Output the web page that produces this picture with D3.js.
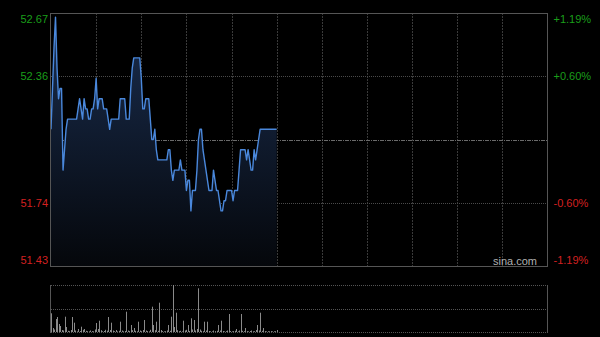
<!DOCTYPE html>
<html>
<head>
<meta charset="utf-8">
<script src="https://cdn.jsdelivr.net/npm/d3@7"></script>
<style>
    html, body { margin: 0; padding: 0; background: #000; }
    svg { display: block; }
    text { font-family: "Liberation Sans", Arial, sans-serif; font-size: 11px; }
</style>
</head>
<body>
<svg id="chart"></svg>
<script>
// HK intraday, 1-minute prices for the morning session (09:30 - 12:00)
const prevClose = 52.05;
const priceTicks = [52.67, 52.36, 52.05, 51.74, 51.43];
const pctTicks = ['+1.19%', '+0.60%', '', '-0.60%', '-1.19%'];
const sessionMinutes = 330; // 5.5h, 11 half-hour columns

const prices = [
    52.10, 52.30, 52.50, 52.65, 52.40, 52.25, 52.30, 52.30, 51.90, 52.00,
    52.10, 52.15, 52.15, 52.15, 52.15, 52.15, 52.15, 52.15, 52.20, 52.25,
    52.20, 52.15, 52.25, 52.20, 52.20, 52.15, 52.15, 52.20, 52.20, 52.25,
    52.35, 52.20, 52.25, 52.25, 52.25, 52.20, 52.20, 52.20, 52.15, 52.10,
    52.15, 52.15, 52.15, 52.15, 52.15, 52.15, 52.25, 52.25, 52.25, 52.25,
    52.15, 52.15, 52.15, 52.30, 52.40, 52.45, 52.45, 52.45, 52.45, 52.45,
    52.35, 52.20, 52.20, 52.25, 52.25, 52.25, 52.15, 52.05, 52.05, 52.10,
    52.00, 51.95, 51.95, 51.95, 51.95, 51.95, 51.95, 51.95, 52.00, 52.00,
    51.90, 51.85, 51.90, 51.90, 51.90, 51.90, 51.95, 51.90, 51.90, 51.90,
    51.80, 51.85, 51.85, 51.70, 51.80, 51.80, 51.80, 51.90, 52.05, 52.10,
    52.10, 52.00, 51.95, 51.90, 51.85, 51.80, 51.80, 51.80, 51.90, 51.85,
    51.80, 51.80, 51.75, 51.70, 51.70, 51.75, 51.75, 51.80, 51.80, 51.80,
    51.80, 51.75, 51.80, 51.80, 51.80, 51.90, 52.00, 52.00, 52.00, 52.00,
    51.95, 52.00, 51.95, 51.90, 51.90, 52.00, 51.95, 52.00, 52.05, 52.10,
    52.10, 52.10, 52.10, 52.10, 52.10, 52.10, 52.10, 52.10, 52.10, 52.10, 52.10
];

const volumes = [
    18700, 4000, 2500, 13000, 15000, 8000, 6000, 2000, 1500, 15300,
    5000, 1200, 800, 2000, 15000, 9300, 1500, 600, 3000, 1000,
    5300, 2200, 3000, 1200, 800, 600, 1500, 900, 700, 2500,
    9000, 3000, 11300, 1800, 700, 1000, 2200, 1300, 15000, 2000,
    9300, 1500, 800, 2000, 600, 1200, 10300, 1500, 700, 1000,
    20300, 1500, 900, 7000, 1800, 4000, 1200, 700, 10300, 1500,
    800, 2000, 12000, 1500, 900, 600, 2200, 25300, 7000, 1800,
    10300, 1200, 29300, 2000, 900, 600, 800, 1500, 7000, 1200,
    15300, 47000, 5000, 19300, 1800, 800, 1200, 600, 11300, 1500,
    2200, 7000, 1000, 13700, 2500, 12000, 1500, 3000, 43700, 2500,
    1200, 800, 10300, 1500, 10300, 1000, 700, 600, 1500, 900,
    1200, 7000, 1500, 11300, 1000, 600, 800, 1500, 18000, 1000,
    600, 900, 1200, 3000, 700, 1500, 18000, 1200, 800, 4000,
    900, 600, 1000, 1500, 700, 800, 2000, 7000, 1500, 19300,
    1200, 4000, 900, 600, 800, 700, 900, 600, 700, 800, 2000
];

const config = {
    width: 600,
    height: 337,
    left: 51,
    right: 547.5,
    priceTop: 13,
    priceBottom: 266,
    volTop: 285,
    volBottom: 332,
    frameColour: '#555',
    gridColour: '#3a3a3a',
    lineColour: '#4a88dc'
};

const svg = d3.select('#chart')
    .attr('width', config.width)
    .attr('height', config.height);

svg.append('rect')
    .attr('width', config.width)
    .attr('height', config.height)
    .attr('fill', '#000');

const xScale = d3.scaleLinear()
    .domain([0, sessionMinutes])
    .range([config.left, config.right]);

const yScale = d3.scaleLinear()
    .domain([priceTicks[priceTicks.length - 1], priceTicks[0]])
    .range([config.priceBottom, config.priceTop]);

const volScale = d3.scaleLinear()
    .domain([0, d3.max(volumes)])
    .range([config.volBottom, config.volTop]);

// fill gradient under the price line
const defs = svg.append('defs');
const grad = defs.append('linearGradient')
    .attr('id', 'areaFill')
    .attr('gradientUnits', 'userSpaceOnUse')
    .attr('x1', 0).attr('x2', 0)
    .attr('y1', config.priceTop).attr('y2', config.priceBottom);
grad.append('stop').attr('offset', '0%').attr('stop-color', '#1a2e50');
grad.append('stop').attr('offset', '100%').attr('stop-color', '#05070b');

// vertical grid lines, every half hour
const halfHours = d3.range(30, sessionMinutes, 30);
svg.append('g')
    .selectAll('line')
    .data(halfHours)
    .join('line')
    .attr('x1', d => Math.round(xScale(d)) + 0.5)
    .attr('x2', d => Math.round(xScale(d)) + 0.5)
    .attr('y1', config.priceTop)
    .attr('y2', config.priceBottom)
    .attr('stroke', config.gridColour)
    .attr('stroke-dasharray', '2,1');

// horizontal grid lines (not the outer ones)
const innerTicks = priceTicks.slice(1, -1);
svg.append('g')
    .selectAll('line')
    .data(innerTicks)
    .join('line')
    .attr('x1', config.left)
    .attr('x2', config.right)
    .attr('y1', d => Math.round(yScale(d)) + 0.5)
    .attr('y2', d => Math.round(yScale(d)) + 0.5)
    .attr('stroke', d => d === prevClose ? '#6a6a6a' : '#4a4a4a')
    .attr('stroke-dasharray', d => d === prevClose ? '4,1,1,1' : '1,1');

// area + price line
const area = d3.area()
    .x((d, i) => xScale(i))
    .y0(config.priceBottom)
    .y1(d => yScale(d));

const line = d3.line()
    .x((d, i) => xScale(i))
    .y(d => yScale(d));

svg.append('path')
    .datum(prices)
    .attr('d', area)
    .attr('fill', 'url(#areaFill)');

svg.append('path')
    .datum(prices)
    .attr('d', line)
    .attr('fill', 'none')
    .attr('stroke', config.lineColour)
    .attr('stroke-width', 1.4)
    .attr('stroke-linejoin', 'round');

// price frame
svg.append('rect')
    .attr('x', config.left - 0.5)
    .attr('y', config.priceTop + 0.5)
    .attr('width', config.right - config.left + 0.5)
    .attr('height', config.priceBottom - config.priceTop)
    .attr('fill', 'none')
    .attr('stroke', config.frameColour);

// left price labels, right percent labels
const labelY = (d, i) => {
    let y = yScale(d) + 4;
    if (i === 0) y += 6;
    if (i === priceTicks.length - 1) y -= 6;
    return y;
};
const labelColour = d => d > prevClose ? '#1a9e1a' : '#d42020';

svg.append('g')
    .selectAll('text')
    .data(priceTicks.filter(d => d !== prevClose).map(d => ({ v: d, i: priceTicks.indexOf(d) })))
    .join('text')
    .attr('x', config.left - 3)
    .attr('y', d => labelY(d.v, d.i))
    .attr('text-anchor', 'end')
    .attr('fill', d => labelColour(d.v))
    .text(d => d.v.toFixed(2));

svg.append('g')
    .selectAll('text')
    .data(priceTicks.map((d, i) => ({ v: d, i: i, label: pctTicks[i] })).filter(d => d.label !== ''))
    .join('text')
    .attr('x', config.right + 6)
    .attr('y', d => labelY(d.v, d.i))
    .attr('fill', d => labelColour(d.v))
    .text(d => d.label);

svg.append('text')
    .attr('x', 537)
    .attr('y', 265)
    .attr('text-anchor', 'end')
    .attr('fill', '#b0b0b0')
    .text('sina.com');

// volume panel
const volLines = [config.volTop, (config.volTop + config.volBottom) / 2, config.volBottom];
svg.append('g')
    .selectAll('line')
    .data(volLines)
    .join('line')
    .attr('x1', config.left)
    .attr('x2', config.right)
    .attr('y1', d => Math.round(d) + 0.5)
    .attr('y2', d => Math.round(d) + 0.5)
    .attr('stroke', '#555')
    .attr('stroke-dasharray', '1,1');

[config.left - 0.5, config.right].forEach(x => {
    svg.append('line')
        .attr('x1', x).attr('x2', x)
        .attr('y1', config.volTop)
        .attr('y2', config.volBottom + 1)
        .attr('stroke', config.frameColour);
});

svg.append('g')
    .selectAll('line')
    .data(volumes)
    .join('line')
    .attr('x1', (d, i) => Math.round(xScale(i)) + 0.5)
    .attr('x2', (d, i) => Math.round(xScale(i)) + 0.5)
    .attr('y1', config.volBottom)
    .attr('y2', d => volScale(d))
    .attr('stroke', '#8a8a8a');
</script>
</body>
</html>
